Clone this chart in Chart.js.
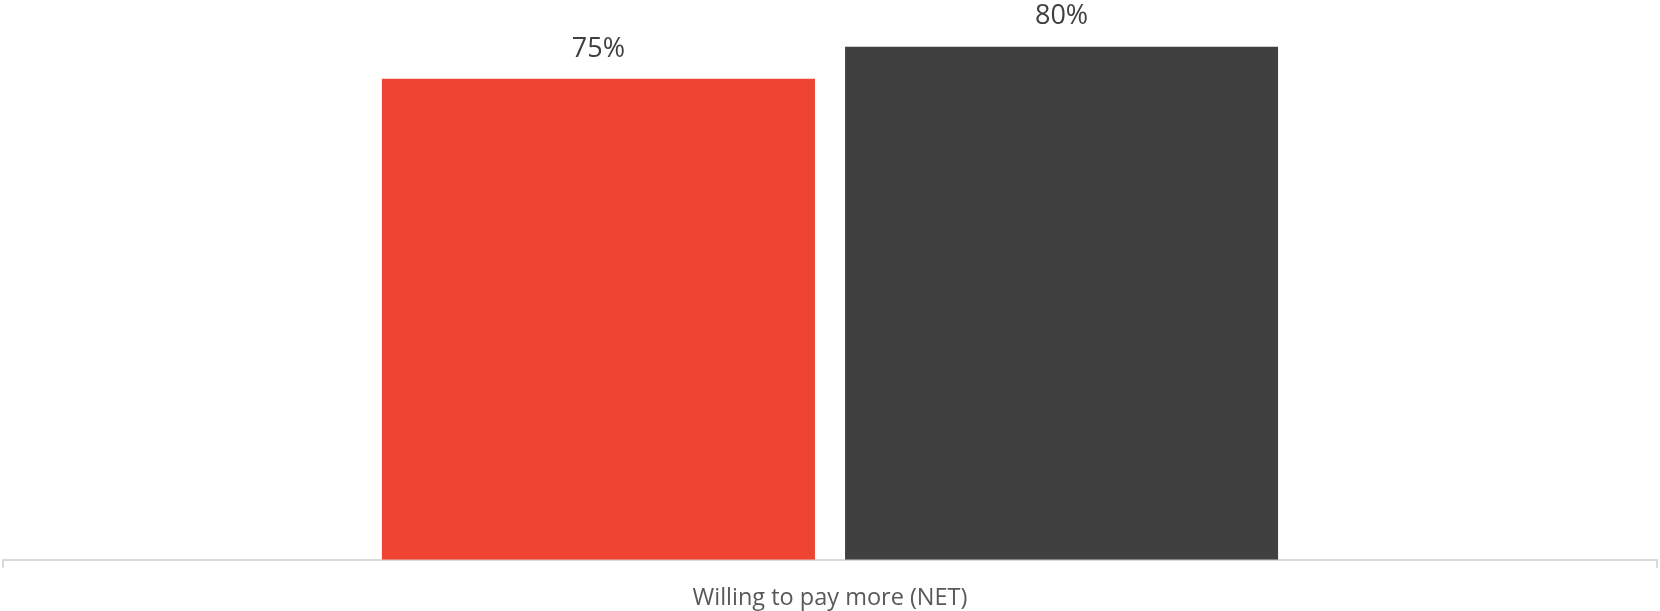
<!DOCTYPE html>
<html>
<head>
<meta charset="utf-8">
<script src="https://cdn.jsdelivr.net/npm/chart.js@4/dist/chart.umd.min.js"></script>
<style>
  html, body { margin:0; padding:0; background:#fff; }
  #wrap { width:1660px; height:611px; position:relative; }
</style>
</head>
<body>
<div id="wrap"><canvas id="payChart"></canvas></div>
<script>
const categories = ['Willing to pay more (NET)'];
const seriesA = [75];
const seriesB = [80];
const colors = ['#EE4431', '#404040'];

// draw the "75%" style labels above each bar
const valueLabels = {
  id: 'valueLabels',
  afterDatasetsDraw(chart) {
    const c = chart.ctx;
    c.save();
    c.font = '27px "Open Sans"';
    c.fillStyle = '#404040';
    c.textAlign = 'center';
    c.textBaseline = 'middle';
    chart.data.datasets.forEach((ds, i) => {
      chart.getDatasetMeta(i).data.forEach((bar, j) => {
        c.fillText(ds.data[j] + '%', bar.x, bar.y - 30);
      });
    });
    c.restore();
  }
};

const ctx = document.getElementById('payChart').getContext('2d');
new Chart(ctx, {
  type: 'bar',
  data: {
    labels: categories,
    datasets: [
      { label: 'A', data: seriesA, backgroundColor: colors[0], categoryPercentage: 0.56, barPercentage: 0.935 },
      { label: 'B', data: seriesB, backgroundColor: colors[1], categoryPercentage: 0.56, barPercentage: 0.935 }
    ]
  },
  options: {
    responsive: true,
    maintainAspectRatio: false,
    animation: false,
    layout: { padding: { left: 3, right: 3, top: 0, bottom: -17 } },
    plugins: { legend: { display: false }, tooltip: { enabled: false } },
    scales: {
      x: {
        grid: { offset: true, drawOnChartArea: false, color: '#d9d9d9', tickLength: 8, lineWidth: 2 },
        border: { color: '#d9d9d9', width: 2 },
        ticks: { color: '#595959', font: { family: 'Open Sans', size: 23.5 }, padding: 16 }
      },
      y: { display: false, min: 0, max: 87.3 }
    }
  },
  plugins: [valueLabels]
});
</script>
</body>
</html>
